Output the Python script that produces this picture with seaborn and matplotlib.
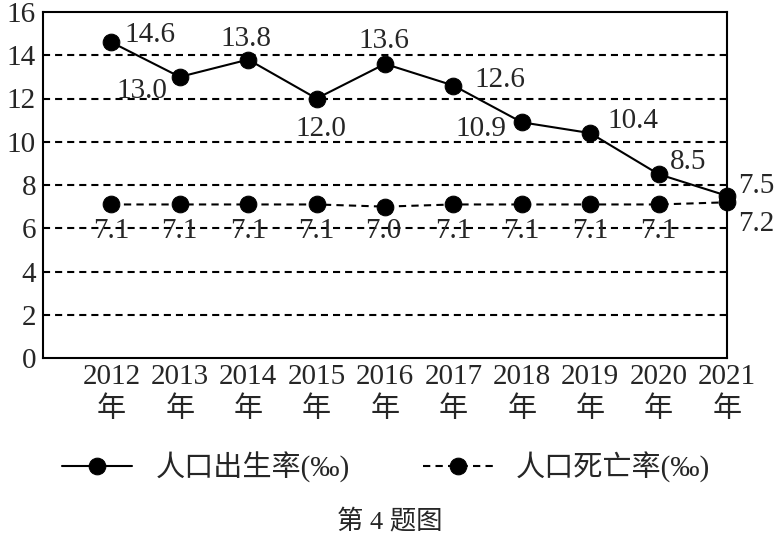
import matplotlib
matplotlib.use("Agg")
import matplotlib.pyplot as plt
import seaborn as sns
import pandas as pd

years = ["2012", "2013", "2014", "2015", "2016", "2017", "2018", "2019", "2020", "2021"]
birth = [14.6, 13.0, 13.8, 12.0, 13.6, 12.6, 10.9, 10.4, 8.5, 7.5]
death = [7.1, 7.1, 7.1, 7.1, 7.0, 7.1, 7.1, 7.1, 7.1, 7.2]
birth_name = "人口出生率(‰)"
death_name = "人口死亡率(‰)"
caption = "第 4 题图"
yticks = [0, 2, 4, 6, 8, 10, 12, 14, 16]

sns.set_theme(style="white")
FAM = ["Liberation Serif", "Noto Sans CJK SC"]
plt.rcParams["font.family"] = FAM
plt.rcParams["axes.unicode_minus"] = False

FS = 21
fig = plt.figure(figsize=(7.8, 5.38), dpi=100)
ax = fig.add_axes([43 / 780, 1 - 358 / 538, (727 - 43) / 780, (358 - 12) / 538])

idx = list(range(len(years)))
df = pd.DataFrame({"x": idx, "birth": birth, "death": death})

sns.lineplot(data=df, x="x", y="birth", ax=ax, color="black", lw=1.5,
             marker="o", markersize=12, markeredgecolor="black", label=birth_name,
             clip_on=False, zorder=5)
sns.lineplot(data=df, x="x", y="death", ax=ax, color="black", lw=1.5,
             marker="o", markersize=12, markeredgecolor="black", label=death_name,
             linestyle=(0, (3.5, 2.5)), clip_on=False, zorder=5)

ax.set_xlim(-1, 9)
ax.set_ylim(0, 16)
ax.set_yticks(yticks)
ax.set_yticklabels([str(v) for v in yticks], fontsize=FS)
ax.set_xticks(idx)
ax.set_xticklabels([y + "\n年" for y in years], fontsize=FS, linespacing=1.35)
ax.tick_params(axis="x", length=0, pad=4)
ax.tick_params(axis="y", length=0, pad=5)
ax.set_xlabel("")
ax.set_ylabel("")
for yv in yticks[1:-1]:
    ax.axhline(yv, color="black", lw=1.5, linestyle=(0, (3.4, 2.4)), zorder=0)
for s in ax.spines.values():
    s.set_color("black")
    s.set_linewidth(1.5)

# label offsets in pixels (dx, dy, ha)
boff = [(13, 7, "left"), (-12, -14, "right"), (-2, 21, "center"),
        (4, -30, "center"), (-1, 23, "center"), (21, 6, "left"),
        (-15, -7, "right"), (17, 12, "left"), (11, 12, "left"),
        (11, 10, "left")]
for i, (v, (dx, dy, ha)) in enumerate(zip(birth, boff)):
    ax.annotate(f"{v:.1f}", (i, v), xytext=(dx, dy), textcoords="offset pixels",
                ha=ha, va="center", fontsize=FS, annotation_clip=False, zorder=6)
for i, v in enumerate(death):
    if i == len(death) - 1:
        dx, dy, ha = 11, -22, "left"
    elif v < 7.1:
        dx, dy, ha = -2, -24, "center"
    else:
        dx, dy, ha = 0, -27, "center"
    ax.annotate(f"{v:.1f}", (i, v), xytext=(dx, dy), textcoords="offset pixels",
                ha=ha, va="center", fontsize=FS, annotation_clip=False, zorder=6)

ax.get_legend().remove()
handles, labels = ax.get_legend_handles_labels()
fig.legend(handles, labels, loc="center", bbox_to_anchor=(0.495, 1 - 467 / 538), ncol=2,
           frameon=False, fontsize=21, handlelength=2.4, columnspacing=2.5,
           handletextpad=0.8)
fig.text(0.5, 1 - 521 / 538, caption, ha="center", va="center", fontsize=19,
         family=FAM)

fig.savefig("out.png", dpi=100, facecolor="white")
